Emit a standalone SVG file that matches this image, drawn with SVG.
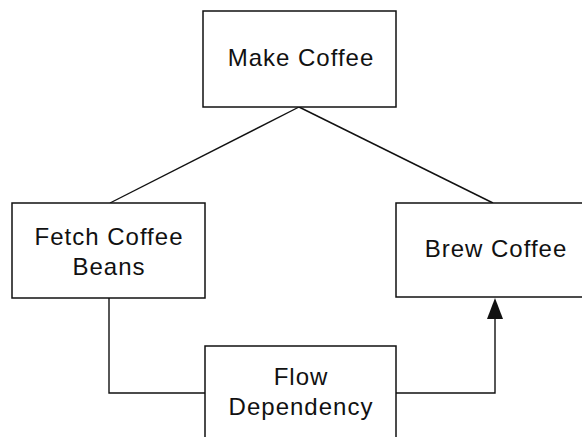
<svg xmlns="http://www.w3.org/2000/svg" width="582" height="437" viewBox="0 0 582 437">
<style>
.box{fill:#fff;stroke:#111;stroke-width:1.5}
.ln{fill:none;stroke:#111;stroke-width:1.4}
.head{fill:#111}
text{font-family:"Liberation Sans",Arial,sans-serif;font-size:24px;fill:#111;text-anchor:middle;letter-spacing:1px}
</style>
<g id="connectors">
<path class="ln" d="M299 107 L110 203"/>
<path class="ln" d="M299 107 L493 203"/>
<path class="ln" d="M109 298 L109 393 L205 393"/>
<path class="ln" d="M396 393 L495 393 L495 318"/>
<path class="head" d="M495 298 L503 319 L487 319 Z"/>
</g>
<g id="make-coffee">
<rect class="box" x="203" y="11" width="193" height="96"/>
<text x="301" y="66">Make Coffee</text>
</g>
<g id="fetch-coffee-beans">
<rect class="box" x="12" y="203" width="193" height="95"/>
<text x="109" y="245">Fetch Coffee</text>
<text x="109" y="275">Beans</text>
</g>
<g id="brew-coffee">
<rect class="box" x="396" y="203" width="200" height="94"/>
<text x="496" y="257">Brew Coffee</text>
</g>
<g id="flow-dependency">
<rect class="box" x="205" y="346" width="191" height="100"/>
<text x="301" y="385">Flow</text>
<text x="301" y="415">Dependency</text>
</g>
</svg>
